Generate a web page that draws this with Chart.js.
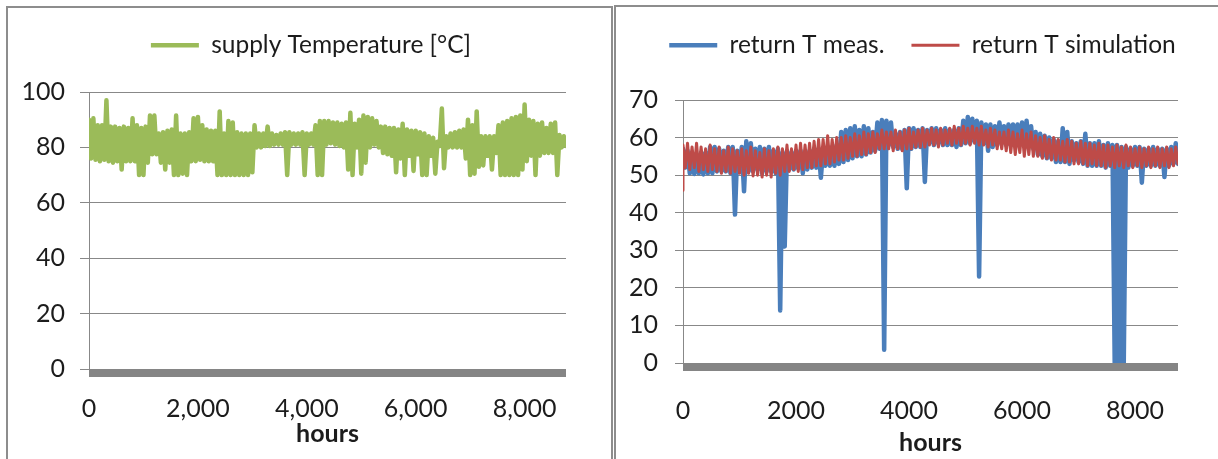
<!DOCTYPE html>
<html>
<head>
<meta charset="utf-8">
<script src="https://cdn.jsdelivr.net/npm/chart.js@4.4.1/dist/chart.umd.min.js"></script>
<style>
  html, body { margin: 0; padding: 0; background: #fff; overflow: hidden; }
  body { width: 1218px; height: 459px; position: relative; }
  .panel { position: absolute; border: 2px solid #8d8d8d; box-sizing: border-box; pointer-events: none; z-index: 2; }
  #p1 { left: 6px; top: 6px; width: 607px; height: 480px; }
  #p2 { left: 614px; top: 5px; width: 640px; height: 480px; }
  canvas { position: absolute; top: 0; }
  #c1 { left: 8px; }
  #c2 { left: 616px; }
</style>
</head>
<body>
<div class="panel" id="p1"></div>
<div class="panel" id="p2"></div>
<canvas id="c1" width="606" height="459" style="width:606px;height:459px"></canvas>
<canvas id="c2" width="613" height="459" style="width:613px;height:459px"></canvas>
<script>
// ---------------- data ----------------
// Each series is sampled in 80-hour blocks: the block's upper and lower excursion.
const BLOCK_HOURS = 80;
const LAST_HOUR = 8760;

const leftXTicks = [0, 2000, 4000, 6000, 8000];
const leftYTicks = [0, 20, 40, 60, 80, 100];
const rightXTicks = [0, 2000, 4000, 6000, 8000];
const rightYTicks = [0, 10, 20, 30, 40, 50, 60, 70];

const supplyHigh = [
  90, 90.5, 88, 88, 97, 87.5, 87.5, 87, 87.5, 87,
  90.5, 88, 87, 87.5, 91.5, 91.5, 85, 85.5, 86, 86.5,
  91.5, 85, 85, 85.5, 90.5, 91, 88, 86.5, 86, 86,
  93, 85, 89.5, 89, 85.5, 85, 85, 85, 88, 85,
  85, 87.5, 85, 84.5, 85, 85.5, 85.5, 85, 85, 85.5,
  85, 85, 88, 89.5, 89.5, 89.5, 89, 89, 88.5, 89,
  92.5, 88.5, 90, 91.5, 91, 90.5, 89.5, 87.5, 87.5, 87,
  87, 86.5, 88.5, 86.5, 86, 86, 85.5, 85, 84, 83.5,
  82, 94, 84, 85, 85.5, 86, 86.5, 90, 88, 93,
  84, 84, 84, 84, 88, 89, 89.5, 90.5, 91, 91.5,
  95.5, 90, 89.5, 88.5, 89, 87, 88.5, 89, 84.5, 84
];
const supplyLow = [
  76, 75.5, 75, 75.5, 75, 74.5, 75, 72, 75, 75,
  75, 70, 70, 74.5, 77.5, 77.5, 74.5, 72, 74.5, 70,
  70, 70.5, 70, 75, 75, 75.5, 75, 75, 75, 70,
  70, 70, 70, 70, 70, 70, 70, 71, 80, 80,
  80.5, 80.5, 81, 81, 81, 70, 81, 81, 81, 70,
  81, 81, 70, 70, 81, 81.5, 81, 80.5, 80, 72,
  70, 80, 70.5, 74.5, 80, 81, 80, 78, 77.5, 77,
  71, 76, 70, 77, 71.5, 77.5, 70, 70, 77, 70.5,
  80.5, 72.5, 80, 80, 80, 80, 76, 70, 70.5, 73,
  73.5, 77, 72, 78, 70, 70, 70, 70, 70, 72,
  75, 77, 70, 77, 78, 78, 78, 70, 80, 80.5
];

const measHigh = [
  57, 56.5, 56, 55.5, 56, 56, 57.5, 57.5, 57, 56.5,
  57.5, 57.5, 56.5, 57.5, 59, 58.5, 57, 57.5, 57, 57.5,
  56.5, 57, 56, 56.5, 56, 56.5, 56.5, 56, 56.5, 57,
  57, 57, 57.5, 57.5, 58, 61.5, 62, 62.5, 63, 62,
  63, 62.5, 61.5, 64, 64.7, 64.5, 64, 61, 61.5, 62,
  62.5, 62.5, 62, 62.5, 62, 62.5, 62.5, 62, 62.5, 62,
  62, 62.5, 64.5, 65.5, 65, 64.5, 64, 63.5, 63.5, 63,
  64, 63, 63.5, 63.5, 63.5, 64, 64.5, 63, 61.5, 61,
  60.5, 60, 59.5, 59, 62.5, 61.5, 59, 58.5, 59, 61,
  58.5, 58.5, 59, 58, 58.5, 58, 58, 57.5, 57.5, 57,
  57.5, 57.5, 57, 57, 57.5, 57, 57, 57, 57.5, 58.5
];
const measLow = [
  52, 50.5, 50.3, 50.5, 50.2, 50.5, 50.5, 51, 51, 51,
  50.5, 39.5, 51, 45.7, 51, 51, 51.5, 50.5, 51, 51,
  50.5, 14, 31, 51.5, 51.5, 51.8, 50.5, 51.5, 52, 52,
  49.3, 52.5, 52.5, 52.5, 53, 53.5, 54, 54.5, 55, 55,
  55.5, 56, 56.5, 57, 3.5, 58, 57.5, 57, 57, 46.5,
  57, 57.5, 57.5, 48.2, 58.5, 58, 58.5, 58, 58, 58,
  57.5, 58, 58.5, 58.5, 59, 23, 58.5, 56.5, 57.5, 58,
  58.5, 58, 58, 58, 58.5, 58.5, 58, 57, 55.5, 55,
  54.5, 54.5, 53.5, 53.5, 53.5, 53, 54, 53.5, 53, 52.5,
  52.5, 52.5, 52.5, 52, 52.5, 0, 0, 0, 52, 52.5,
  52.5, 48, 52.5, 52.5, 52.5, 52.5, 49.5, 52.5, 53, 53
];

const simStart = 46;
const simHigh = [
  58, 58.5, 57.5, 58.5, 57.5, 57, 58, 57, 57.5, 56.5,
  57.5, 57, 56.5, 57, 56.5, 57.5, 56.5, 56, 57, 56.5,
  57, 57.5, 57, 58, 57, 58, 58.5, 58, 58.5, 59,
  59.5, 59.5, 60.5, 59.5, 60, 60, 60.5, 60, 61, 60.5,
  61.5, 61, 61.5, 61, 62, 61.5, 61.5, 62, 61.5, 62,
  62.5, 61.5, 62, 62.5, 62, 62.5, 62, 62.5, 62, 62.5,
  63, 62.5, 63, 62.5, 63, 62.5, 63, 62, 62.5, 62,
  61.5, 61.5, 62, 61.5, 61, 62, 61, 61.5, 60.5, 60,
  60.5, 59.5, 60, 59.5, 59, 59.5, 59, 58.5, 59, 58.5,
  58.5, 58, 58.5, 58, 58, 57.5, 58, 57.5, 58, 57.5,
  57, 57.5, 57, 57.5, 57, 57.5, 57, 57.5, 57, 57.5
];
const simLow = [
  52, 51.5, 52, 51, 51.5, 51, 51.5, 51, 50.5, 51,
  50.5, 51, 50.5, 50, 50.5, 49.8, 50, 49.5, 50, 49.5,
  50.5, 50, 51, 51, 51.5, 51, 51.5, 52, 52, 52.5,
  52.5, 53, 53, 53.5, 54, 54, 54.5, 55, 55, 55.5,
  55.5, 56, 56, 57, 57, 57, 56.5, 57, 56.5, 57,
  57, 57.5, 57.5, 57.5, 58, 58, 57.5, 58, 58.5, 58,
  58.5, 58, 58.5, 58, 58.5, 58, 58, 57.5, 58, 57,
  57, 56.5, 56, 55.5, 56, 55, 55.5, 55, 55, 54.5,
  54.5, 54, 54, 54, 53.5, 53.5, 53, 53, 53, 52.5,
  53, 52.5, 52.5, 52, 52.5, 52, 52.5, 52, 52.5, 52,
  52.5, 52, 52.5, 52, 52.5, 52, 52.5, 52, 52.5, 53
];

// ---------------- helpers ----------------
function blockSeries(high, low) {
  const pts = [];
  high.forEach((h, i) => {
    const t = i * BLOCK_HOURS;
    pts.push({ x: t, y: h });
    pts.push({ x: Math.min(t + BLOCK_HOURS / 2, LAST_HOUR), y: low[i] });
  });
  return pts;
}

const FONT = 'Lato';
const TXT = '#1c1c1c';
const GRID = '#888888';

const floorBar = {
  id: 'floorBar',
  afterDatasetsDraw(chart, args, opts) {
    const { ctx, chartArea } = chart;
    const y0 = chart.scales.y.getPixelForValue(0);
    ctx.save();
    ctx.fillStyle = opts.color;
    ctx.fillRect(chartArea.left, y0, chartArea.right - chartArea.left, opts.size);
    ctx.restore();
  }
};

function makeOptions(cfg) {
  return {
    responsive: false,
    animation: false,
    events: [],
    layout: { padding: { top: 6, left: 0, right: 0, bottom: 0 } },
    plugins: {
      legend: {
        position: 'top',
        labels: {
          usePointStyle: true,
          pointStyle: 'line',
          pointStyleWidth: 48,
          padding: 27,
          color: TXT,
          font: { family: FONT, size: 24.5 },
          sort: (a, b) => a.datasetIndex - b.datasetIndex
        }
      },
      title: {
        display: true, text: '', weight: 500,
        font: { size: 1, lineHeight: 1 },
        padding: { top: 0, bottom: cfg.gapBelowLegend }
      },
      subtitle: {
        display: true, text: '', position: 'right', fullSize: false,
        font: { size: 1, lineHeight: 1 },
        padding: { top: cfg.rightGap - 1, bottom: 0 }
      },
      tooltip: { enabled: false },
      floorBar: { color: '#858585', size: 8 }
    },
    scales: {
      x: {
        type: 'linear',
        min: 0, max: LAST_HOUR,
        afterBuildTicks(s) { s.ticks = cfg.xTicks.map(value => ({ value })); },
        ticks: {
          color: TXT, font: { family: FONT, size: 25 },
          padding: cfg.xTickPad,
          maxRotation: 0, autoSkip: false,
          callback: cfg.xFmt
        },
        grid: { display: false, drawTicks: false },
        border: { display: false },
        title: {
          display: true, text: 'hours', color: TXT,
          font: { family: FONT, size: 25, weight: 'bold' },
          padding: { top: 0, bottom: cfg.titlePad }
        },
        afterFit(s) { s.height = cfg.xHeight; }
      },
      y: {
        min: 0, max: cfg.yMax,
        afterBuildTicks(s) { s.ticks = cfg.yTicks.map(value => ({ value })); },
        ticks: {
          color: TXT,
          font: { family: FONT, size: 25 },
          padding: cfg.yTickPad,
          autoSkip: false
        },
        grid: { color: GRID, lineWidth: 1, tickLength: cfg.tickLen, drawTicks: true },
        border: { color: GRID, width: 1 },
        afterFit(s) { s.width = cfg.yWidth; }
      }
    }
  };
}

new Chart(document.getElementById('c1'), {
  type: 'line',
  data: {
    datasets: [{
      label: 'supply Temperature [°C]',
      data: blockSeries(supplyHigh, supplyLow),
      borderColor: '#9bbb59', backgroundColor: '#9bbb59',
      borderWidth: 4.5, pointRadius: 0, tension: 0,
      borderJoinStyle: 'round', borderCapStyle: 'round'
    }]
  },
  options: makeOptions({
    yWidth: 81, rightGap: 48, gapBelowLegend: 23.5,
    xHeight: 90, xTickPad: 25, titlePad: 10,
    yMax: 100, yTicks: leftYTicks, xTicks: leftXTicks, yTickPad: 15, tickLen: 9,
    xFmt: v => Number(v).toLocaleString('en-US')
  }),
  plugins: [floorBar]
});

const simData = [{ x: 0, y: simStart }].concat(blockSeries(simHigh, simLow));

new Chart(document.getElementById('c2'), {
  type: 'line',
  data: {
    datasets: [{
      label: 'return T meas.',
      data: blockSeries(measHigh, measLow),
      borderColor: '#4a7ebb', backgroundColor: '#4a7ebb',
      borderWidth: 4.5, pointRadius: 0, tension: 0, order: 1,
      borderJoinStyle: 'round', borderCapStyle: 'round'
    }, {
      label: 'return T simulation',
      data: simData,
      borderColor: '#be4b48', backgroundColor: '#be4b48',
      borderWidth: 3, pointRadius: 0, tension: 0, order: 0,
      borderJoinStyle: 'round', borderCapStyle: 'round'
    }]
  },
  options: makeOptions({
    yWidth: 67, rightGap: 51, gapBelowLegend: 31.5,
    xHeight: 96, xTickPad: 33, titlePad: 1,
    yMax: 70, yTicks: rightYTicks, xTicks: rightXTicks, yTickPad: 17, tickLen: 8,
    xFmt: v => String(v)
  }),
  plugins: [floorBar]
});
</script>
</body>
</html>
